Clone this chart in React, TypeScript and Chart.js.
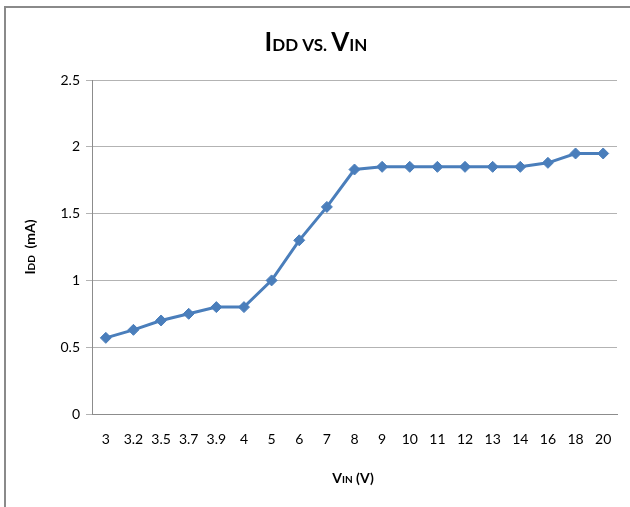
import React, { useEffect, useRef } from "react";
import { Chart, registerables } from "chart.js";

Chart.register(...registerables);

const categories = ["3", "3.2", "3.5", "3.7", "3.9", "4", "5", "6", "7", "8", "9", "10", "11", "12", "13", "14", "16", "18", "20"];
const iddValues = [0.57, 0.63, 0.70, 0.75, 0.80, 0.80, 1.00, 1.30, 1.55, 1.83, 1.85, 1.85, 1.85, 1.85, 1.85, 1.85, 1.88, 1.95, 1.95];
const yTicks = [0, 0.5, 1, 1.5, 2, 2.5];

const FONT = "Lato, 'Open Sans', sans-serif";

type Seg = { t: string; size: number };

function drawSegs(ctx: CanvasRenderingContext2D, segs: Seg[], cx: number, baseY: number, weight: string) {
  let total = 0;
  const widths = segs.map((s) => {
    ctx.font = `${weight} ${s.size}px ${FONT}`;
    const w = ctx.measureText(s.t).width;
    total += w;
    return w;
  });
  let x = cx - total / 2;
  ctx.textBaseline = "alphabetic";
  ctx.textAlign = "left";
  segs.forEach((s, i) => {
    ctx.font = `${weight} ${s.size}px ${FONT}`;
    ctx.fillText(s.t, x, baseY);
    x += widths[i];
  });
}

const labelsPlugin = {
  id: "customLabels",
  afterDraw(chart: any) {
    const ctx = chart.ctx as CanvasRenderingContext2D;
    ctx.save();
    ctx.fillStyle = "#000000";
    // Title
    drawSegs(
      ctx,
      [
        { t: "I", size: 26 },
        { t: "DD", size: 17 },
        { t: " VS. ", size: 17 },
        { t: "V", size: 26 },
        { t: "IN", size: 17 },
      ],
      316,
      51,
      "bold"
    );
    // X axis title
    drawSegs(
      ctx,
      [
        { t: "V", size: 14 },
        { t: "IN", size: 10 },
        { t: " (V)", size: 14 },
      ],
      353,
      483,
      "bold"
    );
    // Y axis title
    ctx.translate(35, 247);
    ctx.rotate(-Math.PI / 2);
    drawSegs(
      ctx,
      [
        { t: "I", size: 14 },
        { t: "DD", size: 10 },
        { t: "  (mA)", size: 14 },
      ],
      0,
      0,
      "bold"
    );
    ctx.restore();
  },
};

export default function App() {
  const ref = useRef<HTMLCanvasElement | null>(null);
  useEffect(() => {
    document.body.style.margin = "0";
    if (!ref.current) return;
    const chart = new Chart(ref.current, {
      type: "line",
      data: {
        labels: categories,
        datasets: [
          {
            label: "IDD",
            data: iddValues,
            borderColor: "#4A7EBB",
            backgroundColor: "#4A7EBB",
            borderWidth: 3,
            pointStyle: "rectRot",
            pointRadius: 5.5,
            pointBorderWidth: 1,
            pointBackgroundColor: "#4A7EBB",
            pointBorderColor: "#4A7EBB",
            tension: 0,
          },
        ],
      },
      options: {
        animation: false,
        responsive: false,
        devicePixelRatio: 1,
        layout: { padding: { left: 0, right: 13, top: 80, bottom: 0 } },
        plugins: {
          legend: { display: false },
          title: { display: false },
          tooltip: { enabled: false },
        },
        scales: {
          x: {
            type: "category",
            offset: true,
            grid: { display: false, drawTicks: false },
            border: { display: true, color: "#8c8c8c", width: 1 },
            ticks: {
              color: "#000000",
              font: { family: FONT, size: 14 },
              padding: 17,
              maxRotation: 0,
              autoSkip: false,
            },
            afterFit(axis: any) {
              axis.height = 93;
            },
          },
          y: {
            min: 0,
            max: 2.5,
            afterBuildTicks(axis: any) {
              axis.ticks = yTicks.map((v) => ({ value: v }));
            },
            grid: { color: "#b3b3b3", lineWidth: 1, tickLength: 6, drawTicks: true },
            border: { display: true, color: "#8c8c8c", width: 1 },
            ticks: {
              color: "#000000",
              font: { family: FONT, size: 14 },
              padding: 6,
              callback: (v: any) => String(v),
            },
            afterFit(axis: any) {
              axis.width = 92;
            },
          },
        },
      },
      plugins: [labelsPlugin],
    });
    return () => chart.destroy();
  }, []);
  return (
    <div style={{ position: "relative", width: 630, height: 507, background: "#fff", overflow: "hidden" }}>
      <canvas ref={ref} width={630} height={507} style={{ position: "absolute", left: 0, top: 0 }} />
      <div
        style={{
          position: "absolute",
          left: 4,
          top: 6,
          width: 640,
          height: 520,
          borderTop: "2px solid #8a8a8a",
          borderLeft: "2px solid #8a8a8a",
          pointerEvents: "none",
        }}
      />
    </div>
  );
}
